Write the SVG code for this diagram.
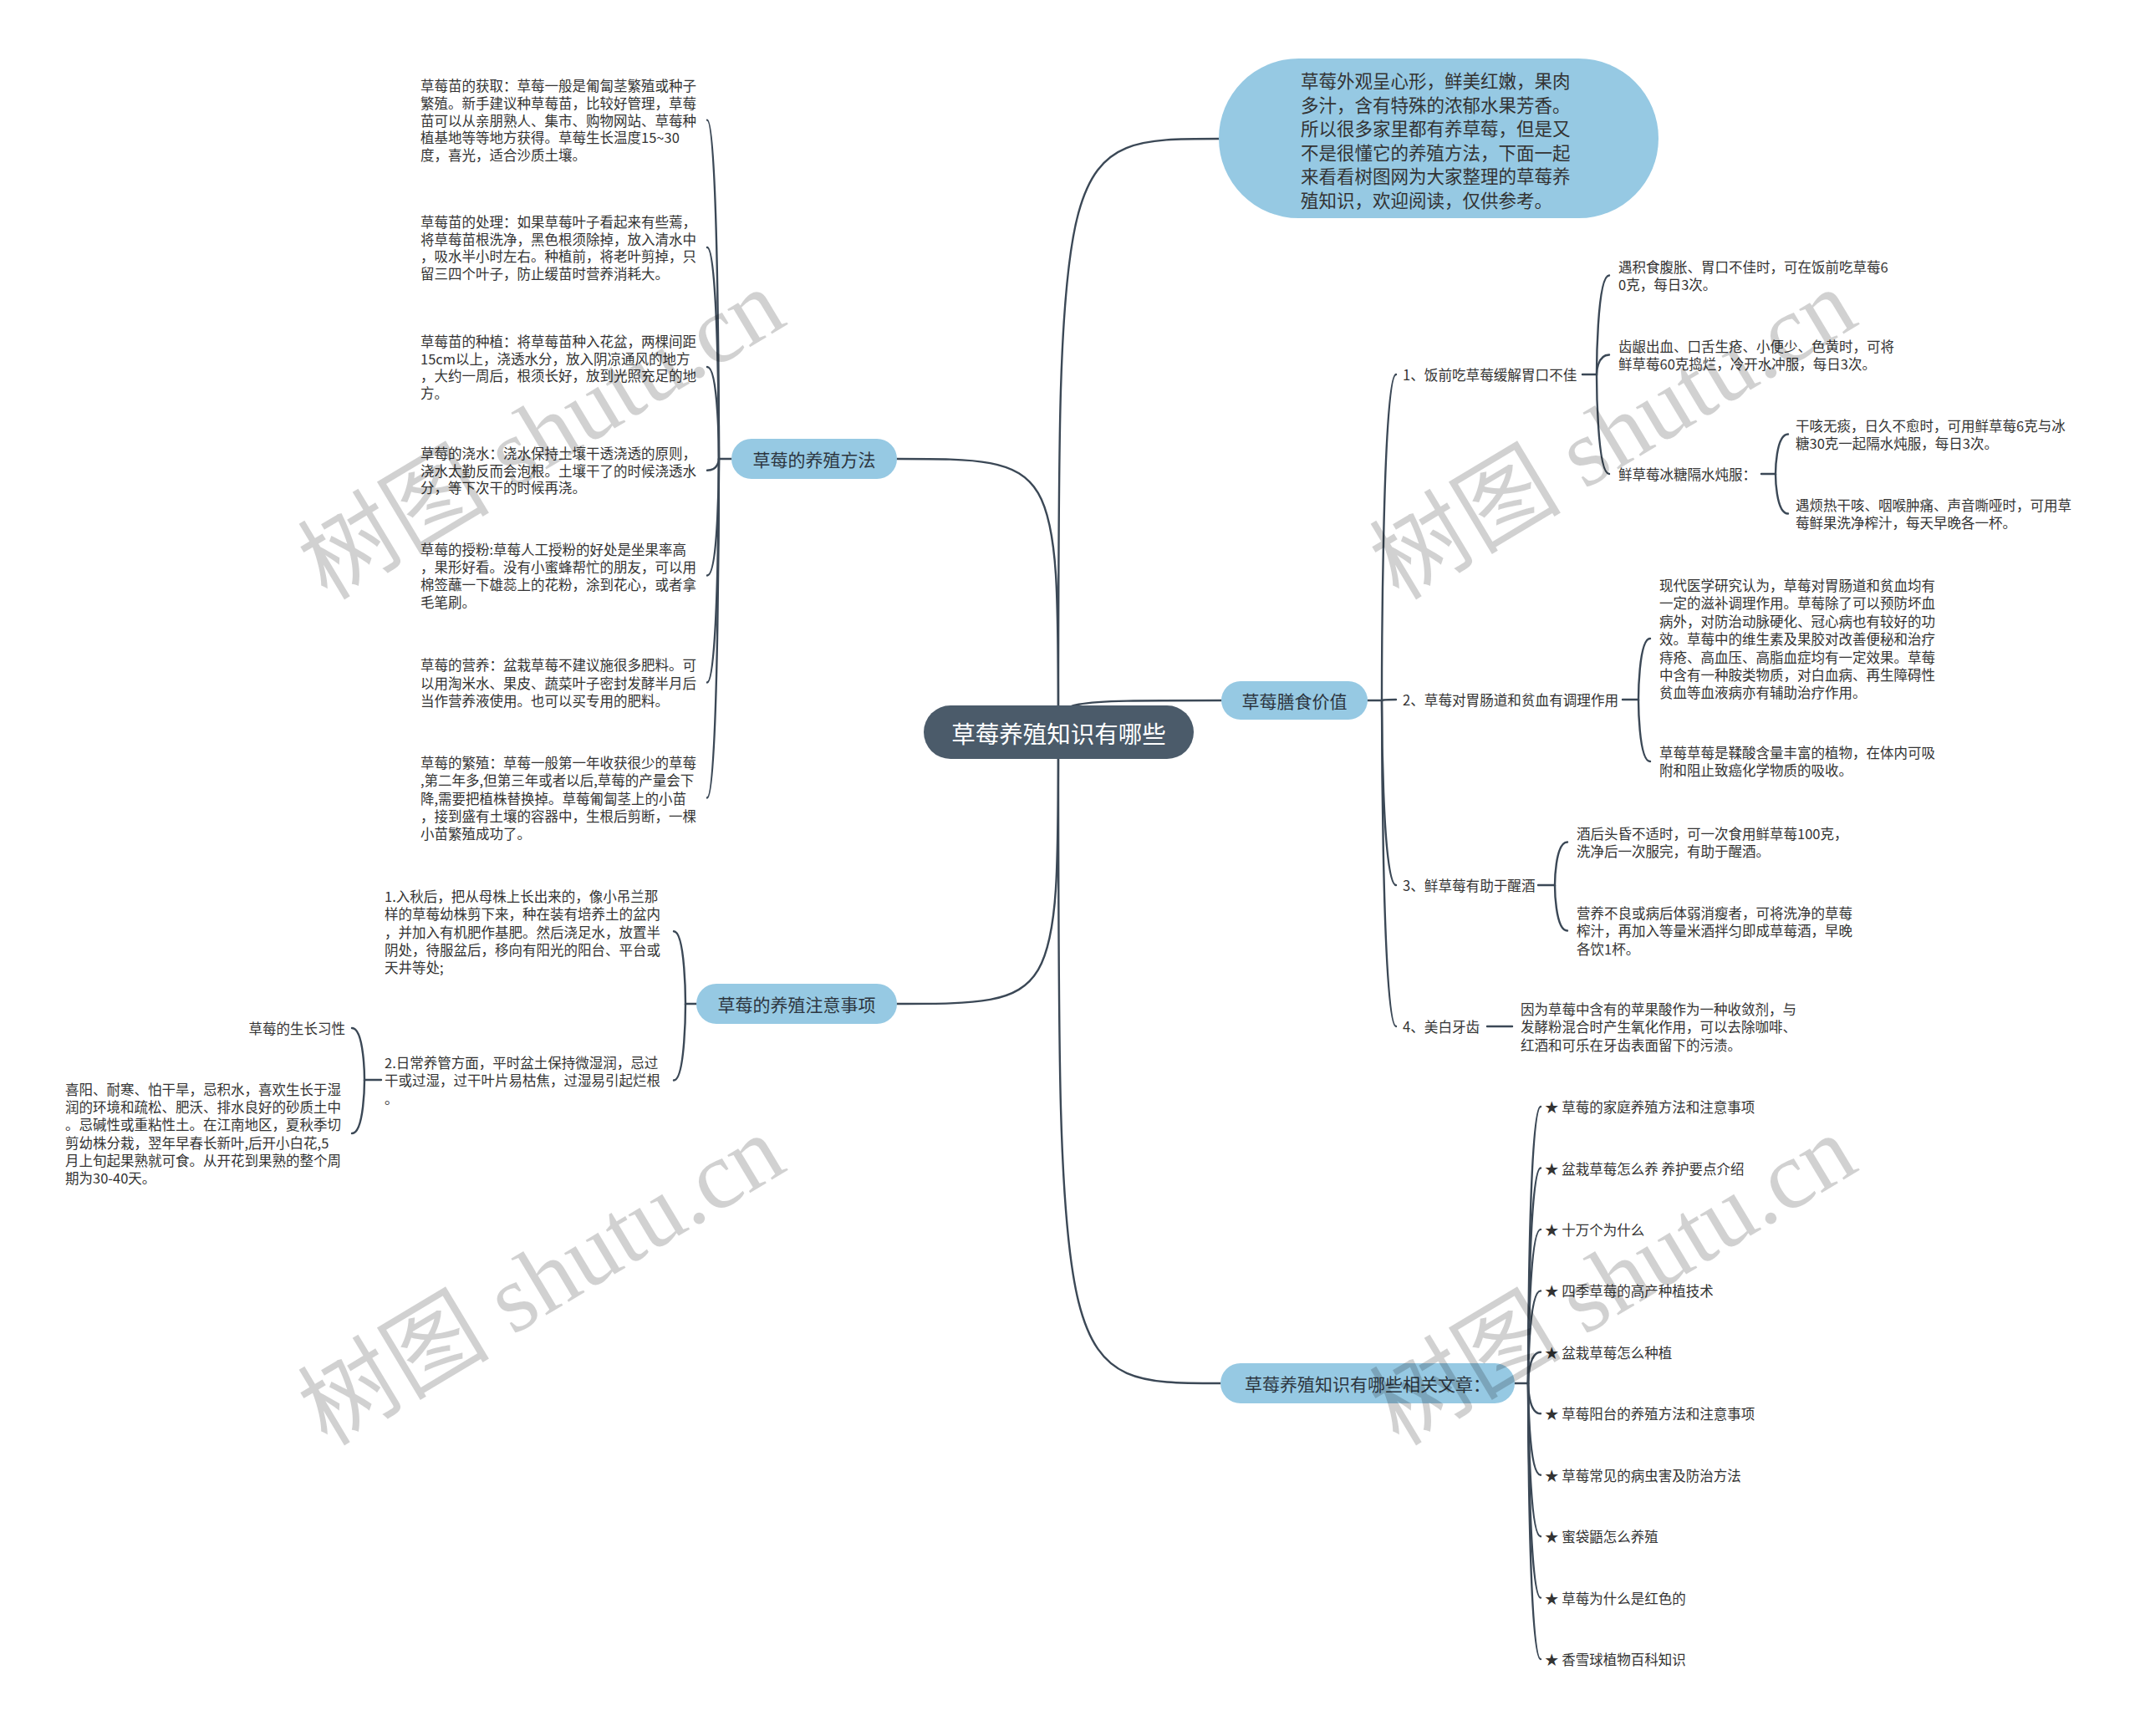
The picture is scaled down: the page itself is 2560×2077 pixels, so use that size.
<svg xmlns="http://www.w3.org/2000/svg" width="2560" height="2077" viewBox="0 0 2560 2077">
<style>
.t{font-family:"Noto Sans CJK SC","Liberation Sans",sans-serif;font-size:16.5px;fill:#333;dominant-baseline:central}
.n{font-family:"Noto Sans CJK SC","Liberation Sans",sans-serif;font-size:21px;fill:#2d3640;dominant-baseline:central;text-anchor:middle}
.c{fill:none;stroke:#3b4856;stroke-width:2.4;stroke-linecap:round}
.lb{fill:#96c9e3}
.wm{font-family:"Liberation Serif","Noto Sans CJK SC",serif;font-size:115px;fill:#000;fill-opacity:0.18;dominant-baseline:central;text-anchor:middle}
</style>
<rect width="2560" height="2077" fill="#fff"/>
<g id="connectors">
<path class="c" d="M1266 876 C1266 166 1266 166 1459 166"/>
<path class="c" d="M1266 876 C1266 549 1266 549 1073 549"/>
<path class="c" d="M1266 876 C1266 1201 1266 1201 1073 1201"/>
<path class="c" d="M1266 876 C1266 838 1266 838 1461 838"/>
<path class="c" d="M1266 876 C1266 1655 1266 1655 1460 1655"/>
<path class="c" d="M875 549 L860 549 C860 549 860 143.6 846 143.6"/>
<path class="c" d="M860 549 C860 549 860 296 846 296"/>
<path class="c" d="M860 549 C860 549 860 439 846 439"/>
<path class="c" d="M860 549 C860 549 860 562.7 846 562.7"/>
<path class="c" d="M860 549 C860 549 860 688.5 846 688.5"/>
<path class="c" d="M860 549 C860 549 860 816.5 846 816.5"/>
<path class="c" d="M860 549 C860 549 860 954.5 846 954.5"/>
<path class="c" d="M833 1201 L820 1201 C820 1201 820 1114.3 806 1114.3"/>
<path class="c" d="M820 1201 C820 1201 820 1292.5 806 1292.5"/>
<path class="c" d="M456 1292 L436 1292 C436 1292 436 1230 421 1230"/>
<path class="c" d="M436 1292 C436 1292 436 1356 421 1356"/>
<path class="c" d="M1636 838 L1653 838 C1653 838 1653 448 1670 448"/>
<path class="c" d="M1653 838 C1653 838 1653 837 1670 837"/>
<path class="c" d="M1653 838 C1653 838 1653 1059 1670 1059"/>
<path class="c" d="M1653 838 C1653 838 1653 1228 1670 1228"/>
<path class="c" d="M1893 448 L1910 448 C1910 448 1910 329.5 1925 329.5"/>
<path class="c" d="M1910 448 C1910 448 1910 424.5 1925 424.5"/>
<path class="c" d="M1910 448 C1910 448 1910 567 1925 567"/>
<path class="c" d="M2107 567 L2124 567 C2124 567 2124 519.5 2139 519.5"/>
<path class="c" d="M2124 567 C2124 567 2124 614.5 2139 614.5"/>
<path class="c" d="M1941 837 L1960 837 C1960 837 1960 764 1974 764"/>
<path class="c" d="M1960 837 C1960 837 1960 911 1974 911"/>
<path class="c" d="M1840 1059 L1860 1059 C1860 1059 1860 1007.5 1875 1007.5"/>
<path class="c" d="M1860 1059 C1860 1059 1860 1113.5 1875 1113.5"/>
<path class="c" d="M1779 1228 L1809 1228"/>
<path class="c" d="M1812 1655 L1828 1655 C1828 1655 1828 1324 1843 1324"/>
<path class="c" d="M1828 1655 C1828 1655 1828 1397.5 1843 1397.5"/>
<path class="c" d="M1828 1655 C1828 1655 1828 1470.9 1843 1470.9"/>
<path class="c" d="M1828 1655 C1828 1655 1828 1544.4 1843 1544.4"/>
<path class="c" d="M1828 1655 C1828 1655 1828 1617.8 1843 1617.8"/>
<path class="c" d="M1828 1655 C1828 1655 1828 1691.3 1843 1691.3"/>
<path class="c" d="M1828 1655 C1828 1655 1828 1764.7 1843 1764.7"/>
<path class="c" d="M1828 1655 C1828 1655 1828 1838.2 1843 1838.2"/>
<path class="c" d="M1828 1655 C1828 1655 1828 1911.6 1843 1911.6"/>
<path class="c" d="M1828 1655 C1828 1655 1828 1985.1 1843 1985.1"/>
</g>
<g id="root">
<rect x="1105" y="844" width="323" height="64" rx="32" fill="#4b5b6a"/>
<text x="1266.5" y="876" class="n" style="font-size:28.5px;fill:#fff">草莓养殖知识有哪些</text>
</g>
<g id="intro">
<rect class="lb" x="1458" y="70" width="526" height="191" rx="95.5"/>
<text class="t" style="font-size:21.5px">
<tspan x="1556" y="95">草莓外观呈心形，鲜美红嫩，果肉</tspan>
<tspan x="1556" y="123.6">多汁，含有特殊的浓郁水果芳香。</tspan>
<tspan x="1556" y="152.2">所以很多家里都有养草莓，但是又</tspan>
<tspan x="1556" y="180.8">不是很懂它的养殖方法，下面一起</tspan>
<tspan x="1556" y="209.4">来看看树图网为大家整理的草莓养</tspan>
<tspan x="1556" y="238">殖知识，欢迎阅读，仅供参考。</tspan>
</text>
</g>
<g id="n-method">
<rect class="lb" x="875" y="525" width="198" height="48" rx="24"/>
<text class="n" x="974" y="549">草莓的养殖方法</text>
</g>
<g id="n-notice">
<rect class="lb" x="833" y="1177" width="240" height="48" rx="24"/>
<text class="n" x="953" y="1201">草莓的养殖注意事项</text>
</g>
<g id="n-diet">
<rect class="lb" x="1461" y="815" width="175" height="46" rx="23"/>
<text class="n" x="1548.5" y="838">草莓膳食价值</text>
</g>
<g id="n-related">
<rect class="lb" x="1460" y="1631" width="352" height="48" rx="24"/>
<text class="n" x="1636" y="1655">草莓养殖知识有哪些相关文章：</text>
</g>
<g id="m1"><text class="t">
<tspan x="503" y="102">草莓苗的获取：草莓一般是匍匐茎繁殖或种子</tspan>
<tspan x="503" y="122.8">繁殖。新手建议种草莓苗，比较好管理，草莓</tspan>
<tspan x="503" y="143.6">苗可以从亲朋熟人、集市、购物网站、草莓种</tspan>
<tspan x="503" y="164.4">植基地等等地方获得。草莓生长温度15~30</tspan>
<tspan x="503" y="185.2">度，喜光，适合沙质土壤。</tspan>
</text></g>
<g id="m2"><text class="t">
<tspan x="503" y="265">草莓苗的处理：如果草莓叶子看起来有些蔫，</tspan>
<tspan x="503" y="285.6">将草莓苗根洗净，黑色根须除掉，放入清水中</tspan>
<tspan x="503" y="306.2">，吸水半小时左右。种植前，将老叶剪掉，只</tspan>
<tspan x="503" y="326.8">留三四个叶子，防止缓苗时营养消耗大。</tspan>
</text></g>
<g id="m3"><text class="t">
<tspan x="503" y="408">草莓苗的种植：将草莓苗种入花盆，两棵间距</tspan>
<tspan x="503" y="428.7">15cm以上，浇透水分，放入阴凉通风的地方</tspan>
<tspan x="503" y="449.4">，大约一周后，根须长好，放到光照充足的地</tspan>
<tspan x="503" y="470.1">方。</tspan>
</text></g>
<g id="m4"><text class="t">
<tspan x="503" y="542">草莓的浇水：浇水保持土壤干透浇透的原则，</tspan>
<tspan x="503" y="562.7">浇水太勤反而会泡根。土壤干了的时候浇透水</tspan>
<tspan x="503" y="583.4">分，等下次干的时候再浇。</tspan>
</text></g>
<g id="m5"><text class="t">
<tspan x="503" y="657">草莓的授粉:草莓人工授粉的好处是坐果率高</tspan>
<tspan x="503" y="678">，果形好看。没有小蜜蜂帮忙的朋友，可以用</tspan>
<tspan x="503" y="699">棉签蘸一下雄蕊上的花粉，涂到花心，或者拿</tspan>
<tspan x="503" y="720">毛笔刷。</tspan>
</text></g>
<g id="m6"><text class="t">
<tspan x="503" y="795">草莓的营养：盆栽草莓不建议施很多肥料。可</tspan>
<tspan x="503" y="816.5">以用淘米水、果皮、蔬菜叶子密封发酵半月后</tspan>
<tspan x="503" y="838">当作营养液使用。也可以买专用的肥料。</tspan>
</text></g>
<g id="m7"><text class="t">
<tspan x="503" y="912">草莓的繁殖：草莓一般第一年收获很少的草莓</tspan>
<tspan x="503" y="933.25">,第二年多,但第三年或者以后,草莓的产量会下</tspan>
<tspan x="503" y="954.5">降,需要把植株替换掉。草莓匍匐茎上的小苗</tspan>
<tspan x="503" y="975.75">，接到盛有土壤的容器中，生根后剪断，一棵</tspan>
<tspan x="503" y="997">小苗繁殖成功了。</tspan>
</text></g>
<g id="k1"><text class="t">
<tspan x="460" y="1072">1.入秋后，把从母株上长出来的，像小吊兰那</tspan>
<tspan x="460" y="1093.3">样的草莓幼株剪下来，种在装有培养土的盆内</tspan>
<tspan x="460" y="1114.6">，并加入有机肥作基肥。然后浇足水，放置半</tspan>
<tspan x="460" y="1135.9">阴处，待服盆后，移向有阳光的阳台、平台或</tspan>
<tspan x="460" y="1157.2">天井等处;</tspan>
</text></g>
<g id="k2"><text class="t">
<tspan x="460" y="1271">2.日常养管方面，平时盆土保持微湿润，忌过</tspan>
<tspan x="460" y="1292.3">干或过湿，过干叶片易枯焦，过湿易引起烂根</tspan>
<tspan x="460" y="1313.6">。</tspan>
</text></g>
<g id="k2a"><text class="t" x="413" y="1230" text-anchor="end">草莓的生长习性</text></g>
<g id="k2b"><text class="t">
<tspan x="78" y="1303">喜阳、耐寒、怕干旱，忌积水，喜欢生长于湿</tspan>
<tspan x="78" y="1324.2">润的环境和疏松、肥沃、排水良好的砂质土中</tspan>
<tspan x="78" y="1345.4">。忌碱性或重粘性土。在江南地区，夏秋季切</tspan>
<tspan x="78" y="1366.6">剪幼株分栽，翌年早春长新叶,后开小白花,5</tspan>
<tspan x="78" y="1387.8">月上旬起果熟就可食。从开花到果熟的整个周</tspan>
<tspan x="78" y="1409">期为30-40天。</tspan>
</text></g>
<g id="d1"><text class="t" x="1678" y="448" style="font-size:16.6px">1、饭前吃草莓缓解胃口不佳</text></g>
<g id="d1a"><text class="t">
<tspan x="1936" y="319">遇积食腹胀、胃口不佳时，可在饭前吃草莓6</tspan>
<tspan x="1936" y="340">0克，每日3次。</tspan>
</text></g>
<g id="d1b"><text class="t">
<tspan x="1936" y="414">齿龈出血、口舌生疮、小便少、色黄时，可将</tspan>
<tspan x="1936" y="435">鲜草莓60克捣烂，冷开水冲服，每日3次。</tspan>
</text></g>
<g id="d1c"><text class="t" x="1936" y="567">鲜草莓冰糖隔水炖服：</text></g>
<g id="d1c1"><text class="t">
<tspan x="2148" y="509">干咳无痰，日久不愈时，可用鲜草莓6克与冰</tspan>
<tspan x="2148" y="530">糖30克一起隔水炖服，每日3次。</tspan>
</text></g>
<g id="d1c2"><text class="t">
<tspan x="2148" y="604">遇烦热干咳、咽喉肿痛、声音嘶哑时，可用草</tspan>
<tspan x="2148" y="625">莓鲜果洗净榨汁，每天早晚各一杯。</tspan>
</text></g>
<g id="d2"><text class="t" x="1678" y="837" style="font-size:16.6px">2、草莓对胃肠道和贫血有调理作用</text></g>
<g id="d2a"><text class="t">
<tspan x="1985" y="700">现代医学研究认为，草莓对胃肠道和贫血均有</tspan>
<tspan x="1985" y="721.4">一定的滋补调理作用。草莓除了可以预防坏血</tspan>
<tspan x="1985" y="742.8">病外，对防治动脉硬化、冠心病也有较好的功</tspan>
<tspan x="1985" y="764.2">效。草莓中的维生素及果胶对改善便秘和治疗</tspan>
<tspan x="1985" y="785.6">痔疮、高血压、高脂血症均有一定效果。草莓</tspan>
<tspan x="1985" y="807">中含有一种胺类物质，对白血病、再生障碍性</tspan>
<tspan x="1985" y="828.4">贫血等血液病亦有辅助治疗作用。</tspan>
</text></g>
<g id="d2b"><text class="t">
<tspan x="1985" y="900">草莓草莓是鞣酸含量丰富的植物，在体内可吸</tspan>
<tspan x="1985" y="921.4">附和阻止致癌化学物质的吸收。</tspan>
</text></g>
<g id="d3"><text class="t" x="1678" y="1059" style="font-size:16.6px">3、鲜草莓有助于醒酒</text></g>
<g id="d3a"><text class="t">
<tspan x="1886" y="997">酒后头昏不适时，可一次食用鲜草莓100克，</tspan>
<tspan x="1886" y="1018.4">洗净后一次服完，有助于醒酒。</tspan>
</text></g>
<g id="d3b"><text class="t">
<tspan x="1886" y="1092">营养不良或病后体弱消瘦者，可将洗净的草莓</tspan>
<tspan x="1886" y="1113.4">榨汁，再加入等量米酒拌匀即成草莓酒，早晚</tspan>
<tspan x="1886" y="1134.8">各饮1杯。</tspan>
</text></g>
<g id="d4"><text class="t" x="1678" y="1228" style="font-size:16.6px">4、美白牙齿</text></g>
<g id="d4a"><text class="t">
<tspan x="1819" y="1207">因为草莓中含有的苹果酸作为一种收敛剂，与</tspan>
<tspan x="1819" y="1228.4">发酵粉混合时产生氧化作用，可以去除咖啡、</tspan>
<tspan x="1819" y="1249.8">红酒和可乐在牙齿表面留下的污渍。</tspan>
</text></g>
<g id="r1"><text class="t" x="1848" y="1324">★ 草莓的家庭养殖方法和注意事项</text></g>
<g id="r2"><text class="t" x="1848" y="1397.5">★ 盆栽草莓怎么养 养护要点介绍</text></g>
<g id="r3"><text class="t" x="1848" y="1470.9">★ 十万个为什么</text></g>
<g id="r4"><text class="t" x="1848" y="1544.4">★ 四季草莓的高产种植技术</text></g>
<g id="r5"><text class="t" x="1848" y="1617.8">★ 盆栽草莓怎么种植</text></g>
<g id="r6"><text class="t" x="1848" y="1691.3">★ 草莓阳台的养殖方法和注意事项</text></g>
<g id="r7"><text class="t" x="1848" y="1764.7">★ 草莓常见的病虫害及防治方法</text></g>
<g id="r8"><text class="t" x="1848" y="1838.2">★ 蜜袋鼯怎么养殖</text></g>
<g id="r9"><text class="t" x="1848" y="1911.6">★ 草莓为什么是红色的</text></g>
<g id="r10"><text class="t" x="1848" y="1985.1">★ 香雪球植物百科知识</text></g>
<g id="watermarks">
<text class="wm" x="648" y="520" transform="rotate(-31 648 520)">树图 shutu.cn</text>
<text class="wm" x="1930" y="520" transform="rotate(-31 1930 520)">树图 shutu.cn</text>
<text class="wm" x="648" y="1532" transform="rotate(-31 648 1532)">树图 shutu.cn</text>
<text class="wm" x="1930" y="1532" transform="rotate(-31 1930 1532)">树图 shutu.cn</text>
</g>
</svg>
